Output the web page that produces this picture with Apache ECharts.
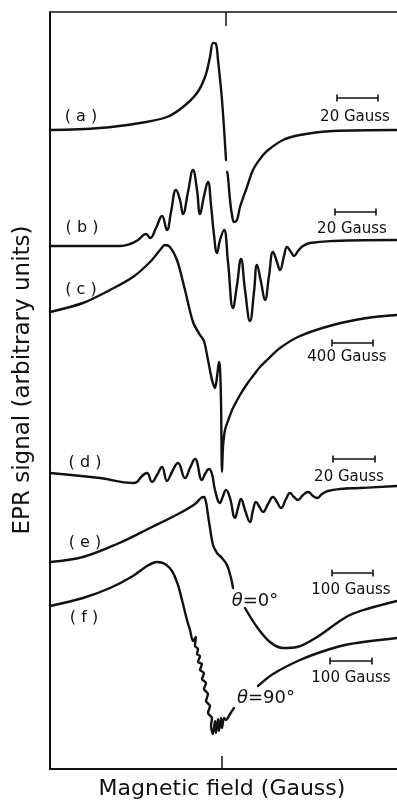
<!DOCTYPE html>
<html>
<head>
<meta charset="utf-8">
<script src="https://cdn.jsdelivr.net/npm/echarts/dist/echarts.min.js"></script>
<style>
html,body{margin:0;padding:0;background:#fff;}
#chart{width:397px;height:802px;}
</style>
</head>
<body>
<div id="chart"></div>
<script>
// Field (arbitrary units) and signal (arbitrary units)
const aField = [50,100,140,167,183,197,205,210,213,216,218,222,226,226.6,227.2,228,230,232,234,237,240,247,253,260,267,283,300,333,397];
const aSignal = [670,672,677,683,693,707,723,743,757,756,740,700,640,null,628,623,600,585,578,580,593,613,630,641,649,660,665,669,670];

const bField = [50,120,130,138,146,150,156,162,167,171,176,180,183,188,193,197,200,204,208,211,214,217,220,224,228,233,237,241,245,250,254,257,261,265,269,273,277,280,284,287,291,294,298,303,310,333,397];
const bSignal = [554,554,556,560,566,562,572,584,570,588,610,600,586,608,630,610,586,604,618,595,565,547,560,570,538,492,515,541,510,479,508,535,518,500,524,548,538,530,544,553,548,544,549,554,557,559,560];

const cField = [50,83,110,133,150,160,165,170,177,185,193,200,204,208,212,215,217,219,220,221,222,223,225,229,233,240,247,253,260,267,280,300,333,367,397];
const cSignal = [488,497,510,523,538,550,555,553,540,510,478,465,459,440,420,412,423,438,432,400,328,353,370,382,392,405,416,424,433,440,452,464,475,482,485];

const dField = [50,100,133,137,142,147,152,157,162,167,172,178,185,190,195,202,205,209,212,215,220,223,226,230,235,238,241,245,250,253,256,259,263,268,273,277,281,286,290,294,298,303,308,313,317,322,328,340,360,397];
const dSignal = [327,322,317,318,324,327,318,325,333,319,328,337,322,332,341,320,326,331,326,310,297,304,310,302,282,292,301,290,278,290,298,294,288,296,303,298,292,301,307,303,300,305,308,304,302,306,309,311,312,314];

const eField = [50,83,117,150,180,195,201,204,206,208,210,213,217,222,227,231,233,239,245,257,270,283,297,317,337,350,367,397];
const eSignal = [238,243,256,272,287,296,302,303,298,285,272,255,247,242,235,222,212,null,192,173,158,152,153,163,177,185,191,199];

const fField = [50,83,110,133,147,157,165,172,178,182,187,190,193,196,195,198,197,200,198,202,200,204,202,206,204,208,206,210,208,212,211,213,215,216,218,219,221,222,224,226,230,234,246,258,273,300,327,350,397];
const fSignal = [194,202,212,224,234,238,236,229,215,200,180,170,159,163,154,151,146,144,138,136,130,127,121,117,111,106,99,94,87,82,74,66,79,67,81,69,82,72,82,80,86,92,null,114,126,140,150,156,162];

const panelLabels = ['( a )','( b )','( c )','( d )','( e )','( f )'];
const scaleLabels = ['20 Gauss','20 Gauss','400 Gauss','20 Gauss','100 Gauss','100 Gauss'];
const angleLabels = ['0°','90°'];
const xTitle = 'Magnetic field (Gauss)';
const yTitle = 'EPR signal (arbitrary units)';

function zip(xs, ys){ return xs.map((x,i)=> ys[i]==null ? [x,'-'] : [x, ys[i]]); }

const FONT = '"DejaVu Sans", sans-serif';
const INK = '#111';

function curve(name, xs, ys, sm){
  return {
    name, type:'line', data: zip(xs, ys), showSymbol:false, symbol:'none',
    smooth:sm, connectNulls:false,
    lineStyle:{color:INK, width:2.4, cap:'round', join:'round'}, animation:false, z:3
  };
}

// layout (pixels) for annotations
const labelPos = [[81,117],[82,228],[81,290],[85,463],[85,543],[84,618]];
const barPos = [[337,378,98],[335,376,212],[332,373,343],[333,375,459],[332,373,573],[330,372,661]];
const scalePos = [[355,117],[352,229],[347,357],[349,477],[351,590],[351,678]];
const anglePos = [[255,601],[266,698]];

const graphics = [];
panelLabels.forEach((t,i)=>{
  graphics.push({type:'text', x:labelPos[i][0], y:labelPos[i][1], z:10,
    style:{text:t, fill:INK, font:'16px '+FONT, align:'center', verticalAlign:'middle'}});
});
scaleLabels.forEach((t,i)=>{
  graphics.push({type:'text', x:scalePos[i][0], y:scalePos[i][1], z:10,
    style:{text:t, fill:INK, font:'15px '+FONT, align:'center', verticalAlign:'middle'}});
  const [x1,x2,y] = barPos[i];
  graphics.push({type:'line', z:10, shape:{x1:x1,y1:y,x2:x2,y2:y}, style:{stroke:INK, lineWidth:1.6}});
  graphics.push({type:'line', z:10, shape:{x1:x1,y1:y-3.5,x2:x1,y2:y+3.5}, style:{stroke:INK, lineWidth:1.6}});
  graphics.push({type:'line', z:10, shape:{x1:x2,y1:y-3.5,x2:x2,y2:y+3.5}, style:{stroke:INK, lineWidth:1.6}});
});
angleLabels.forEach((t,i)=>{
  graphics.push({type:'text', x:anglePos[i][0], y:anglePos[i][1], z:10,
    style:{text:'{th|θ}{n|='+t+'}', align:'center', verticalAlign:'middle',
      rich:{th:{fontStyle:'italic', fontSize:18, fontFamily:FONT, fill:INK},
            n:{fontSize:18, fontFamily:FONT, fill:INK}}}});
});
graphics.push({type:'text', x:222, y:789, z:10,
  style:{text:xTitle, fill:INK, font:'22px '+FONT, align:'center', verticalAlign:'middle'}});
graphics.push({type:'text', x:23, y:380, rotation:Math.PI/2, z:10,
  style:{text:yTitle, fill:INK, font:'23px '+FONT, align:'center', verticalAlign:'middle'}});

const axisLine = {show:true, lineStyle:{color:INK, width:2}};
const chart = echarts.init(document.getElementById('chart'), null, {renderer:'canvas'});
chart.setOption({
  animation:false,
  backgroundColor:'#fff',
  grid:{left:50, top:12, right:0, bottom:33, containLabel:false},
  xAxis:[
    {type:'value', position:'bottom', min:50, max:397, axisLine:axisLine,
     axisTick:{show:true, inside:true, length:13, customValues:[222], lineStyle:{color:INK, width:1.5}},
     axisLabel:{show:false}, splitLine:{show:false}},
    {type:'value', position:'top', min:50, max:397, axisLine:{show:true, lineStyle:{color:INK, width:1.5}},
     axisTick:{show:true, inside:true, length:14, customValues:[226], lineStyle:{color:INK, width:1.5}},
     axisLabel:{show:false}, splitLine:{show:false}}
  ],
  yAxis:{type:'value', min:31, max:788, axisLine:axisLine, axisTick:{show:false},
     axisLabel:{show:false}, splitLine:{show:false}},
  series:[
    curve('a', aField, aSignal, 0.35),
    curve('b', bField, bSignal, 0.45),
    curve('c', cField, cSignal, 0.3),
    curve('d', dField, dSignal, 0.45),
    curve('e', eField, eSignal, 0.35),
    curve('f', fField, fSignal, 0.3)
  ],
  graphic:graphics
});
</script>
</body>
</html>
